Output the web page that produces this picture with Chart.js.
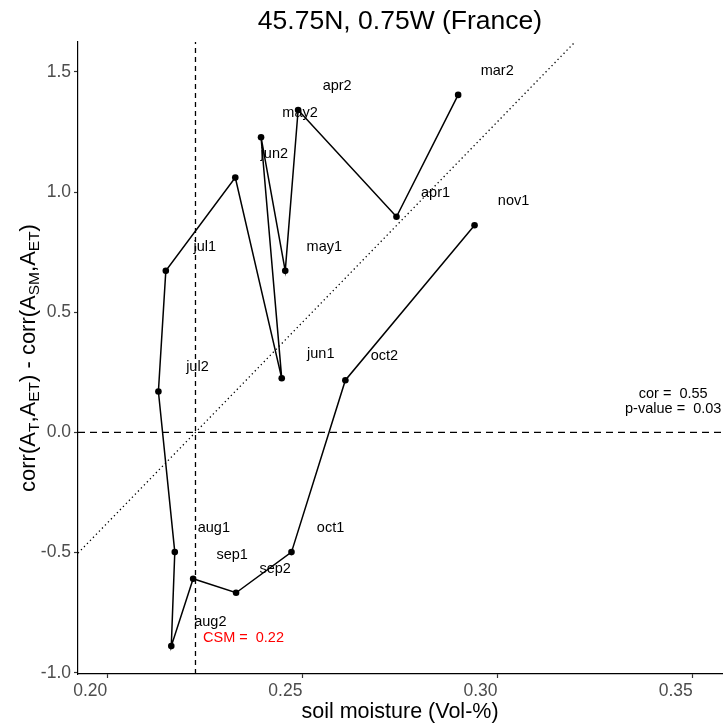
<!DOCTYPE html>
<html>
<head>
<meta charset="utf-8">
<script src="https://cdn.jsdelivr.net/npm/chart.js@4"></script>
<style>
  html, body { margin: 0; padding: 0; background: #fff; }
  #wrap { width: 726px; height: 727px; }
</style>
</head>
<body>
<div id="wrap"><canvas id="myChart" width="726" height="727"></canvas></div>
<script>
// data
const months = ['mar2', 'apr1', 'apr2', 'may1', 'may2', 'jun1', 'jun2', 'jul1',
                'jul2', 'aug1', 'aug2', 'sep1', 'sep2', 'oct1', 'oct2', 'nov1'];
const soilMoisture = [0.2899, 0.2741, 0.2489, 0.2456, 0.2394, 0.2447, 0.2328, 0.2150,
                      0.2131, 0.2173, 0.2164, 0.2220, 0.2330, 0.2472, 0.2610, 0.2941];
const corrDiff = [1.404, 0.897, 1.341, 0.672, 1.228, 0.225, 1.060, 0.672,
                  0.170, -0.498, -0.889, -0.609, -0.667, -0.498, 0.217, 0.862];

const xTicks = [0.20, 0.25, 0.30, 0.35];
const yTicks = [-1.0, -0.5, 0.0, 0.5, 1.0, 1.5];

const csm = 0.2226;
const corValue = '0.55';
const pValue = '0.03';
const fitSlope = 16.7;     // dotted fit line
const fitIntercept = -3.717;

const labelDx = 0.01;
const labelDy = 0.1;

const xMin = 0.1925, xMax = 0.3575;
const yMin = -1.005, yMax = 1.624;

const FONT = '"Liberation Sans", Arial, Helvetica, sans-serif';

const ctx = document.getElementById('myChart');

const points = soilMoisture.map((x, i) => ({ x: x, y: corrDiff[i] }));

const textPlugin = {
    id: 'textPlugin',
    afterDatasetsDraw(chart) {
        const c = chart.ctx;
        const xs = chart.scales.x;
        const ys = chart.scales.y;
        c.save();
        c.textAlign = 'center';
        c.textBaseline = 'middle';

        // month labels
        c.fillStyle = '#000';
        c.font = '14.5px ' + FONT;
        months.forEach((m, i) => {
            c.fillText(m, xs.getPixelForValue(soilMoisture[i] + labelDx),
                ys.getPixelForValue(corrDiff[i] + labelDy));
        });

        // stats
        c.fillText('cor =  ' + corValue, xs.getPixelForValue(0.345), ys.getPixelForValue(0.16));
        c.fillText('p-value =  ' + pValue, xs.getPixelForValue(0.345), ys.getPixelForValue(0.098));

        c.fillStyle = '#ff0000';
        c.fillText('CSM =  ' + csm.toFixed(2), xs.getPixelForValue(0.2349), ys.getPixelForValue(-0.854));

        // title
        const mid = (chart.chartArea.left + chart.chartArea.right) / 2;
        c.fillStyle = '#000';
        c.font = '26.5px ' + FONT;
        c.fillText('45.75N, 0.75W (France)', mid, 22);

        // y axis title with subscripts
        const parts = [['corr(A', 0], ['T', 1], [',A', 0], ['ET', 1], [') - corr(A', 0],
                       ['SM', 1], [',A', 0], ['ET', 1], [')', 0]];
        const big = '22px ' + FONT, small = '15.5px ' + FONT;
        let w = 0;
        parts.forEach(p => { c.font = p[1] ? small : big; w += c.measureText(p[0]).width; });
        const cy = (chart.chartArea.top + chart.chartArea.bottom) / 2;
        c.translate(35, cy);
        c.rotate(-Math.PI / 2);
        c.textAlign = 'left';
        c.textBaseline = 'alphabetic';
        let px = -w / 2;
        parts.forEach(p => {
            c.font = p[1] ? small : big;
            c.fillText(p[0], px, p[1] ? 4 : 0);
            px += c.measureText(p[0]).width;
        });
        c.restore();
    }
};

new Chart(ctx, {
    type: 'scatter',
    data: {
        datasets: [
            {
                data: points,
                showLine: true,
                borderColor: '#000',
                backgroundColor: '#000',
                borderWidth: 1.5,
                pointRadius: 3.3,
                pointBorderWidth: 0,
                order: 0
            },
            {
                data: [{ x: csm, y: yMin }, { x: csm, y: yMax }],
                showLine: true,
                borderColor: '#000',
                borderWidth: 1.3,
                borderDash: [5, 4],
                pointRadius: 0,
                order: 1
            },
            {
                data: [{ x: xMin, y: 0 }, { x: xMax, y: 0 }],
                showLine: true,
                borderColor: '#000',
                borderWidth: 1.3,
                borderDash: [7, 5],
                pointRadius: 0,
                order: 1
            },
            {
                data: [{ x: xMin, y: fitIntercept + fitSlope * xMin },
                       { x: xMax, y: fitIntercept + fitSlope * xMax }],
                showLine: true,
                borderColor: '#000',
                borderWidth: 1.3,
                borderDash: [1.3, 3],
                pointRadius: 0,
                order: 1
            }
        ]
    },
    options: {
        responsive: false,
        animation: false,
        layout: { padding: { left: 0, right: 3, top: 42, bottom: 0 } },
        plugins: {
            legend: { display: false },
            tooltip: { enabled: false }
        },
        scales: {
            x: {
                type: 'linear',
                min: xMin,
                max: xMax,
                afterBuildTicks: s => { s.ticks = xTicks.map(v => ({ value: v })); },
                afterFit: s => { s.height = 53; },
                border: { display: true, color: '#000', width: 1.2 },
                grid: { drawOnChartArea: false, drawTicks: true, tickLength: 4, color: '#333', tickWidth: 1.2 },
                ticks: {
                    align: 'end',
                    padding: 3,
                    color: '#4d4d4d',
                    font: { family: FONT, size: 17.5 },
                    callback: v => v.toFixed(2)
                },
                title: {
                    display: true,
                    text: 'soil moisture (Vol-%)',
                    color: '#000',
                    font: { family: FONT, size: 21.5, lineHeight: 1 },
                    padding: { top: 0, bottom: 4 }
                }
            },
            y: {
                type: 'linear',
                min: yMin,
                max: yMax,
                afterBuildTicks: s => { s.ticks = yTicks.map(v => ({ value: v })); },
                afterFit: s => { s.width = 78; },
                border: { display: true, color: '#000', width: 1.2 },
                grid: { drawOnChartArea: false, drawTicks: true, tickLength: 4, color: '#333', tickWidth: 1.2 },
                ticks: {
                    padding: 3,
                    color: '#4d4d4d',
                    font: { family: FONT, size: 17.5 },
                    callback: v => v.toFixed(1)
                }
            }
        }
    },
    plugins: [textPlugin]
});
</script>
</body>
</html>
